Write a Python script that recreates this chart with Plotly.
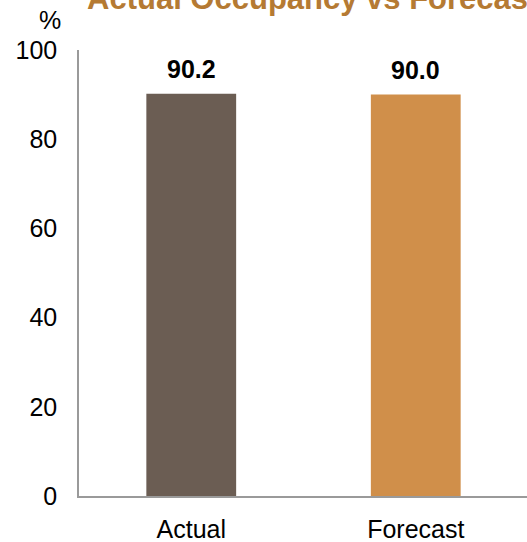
import plotly.graph_objects as go

categories = ["Actual", "Forecast"]
occupancy = [90.2, 90.0]
bar_colors = ["#6B5D53", "#D08F4A"]
y_ticks = [0, 20, 40, 60, 80, 100]

FONT = "Liberation Sans, Arial, sans-serif"

fig = go.Figure(
    go.Bar(
        x=categories,
        y=occupancy,
        width=0.4,
        marker=dict(color=bar_colors, line=dict(width=0)),
        hoverinfo="skip",
    )
)

# value labels above each bar
for cat, val in zip(categories, occupancy):
    fig.add_annotation(
        x=cat, y=val, xref="x", yref="y",
        text=f"<b>{val:.1f}</b>", showarrow=False,
        yanchor="bottom", yshift=9,
        font=dict(family=FONT, size=25, color="#000000"),
    )

# chart title
fig.add_annotation(
    x=0, y=1, xref="paper", yref="paper",
    xanchor="left", yanchor="bottom", xshift=6, yshift=32,
    text="<b>Actual Occupancy vs Forecast</b>", showarrow=False,
    font=dict(family=FONT, size=31, color="#B57A33"),
)

# unit label
fig.add_annotation(
    x=0, y=1, xref="paper", yref="paper",
    xanchor="center", yanchor="bottom", xshift=-29, yshift=14,
    text="%", showarrow=False,
    font=dict(family=FONT, size=25, color="#000000"),
)

fig.update_layout(
    width=527, height=542,
    margin=dict(l=79, r=0, t=50, b=46, pad=0, autoexpand=False),
    paper_bgcolor="white", plot_bgcolor="white",
    showlegend=False,
    font=dict(family=FONT, size=25, color="#000000"),
)

fig.update_xaxes(
    range=[-0.5, 1.4955],
    showline=True, linecolor="#9A9A9A", linewidth=1.5,
    showgrid=False, ticks="", zeroline=False,
    automargin=False,
    ticklabelstandoff=10,
    tickfont=dict(family=FONT, size=25, color="#000000"),
)
fig.update_yaxes(
    range=[0, 100],
    tickvals=y_ticks,
    showline=True, linecolor="#9A9A9A", linewidth=1.5,
    showgrid=False, ticks="", zeroline=False,
    automargin=False,
    ticklabelstandoff=15,
    tickfont=dict(family=FONT, size=25, color="#000000"),
)

fig.write_html("out.html")
